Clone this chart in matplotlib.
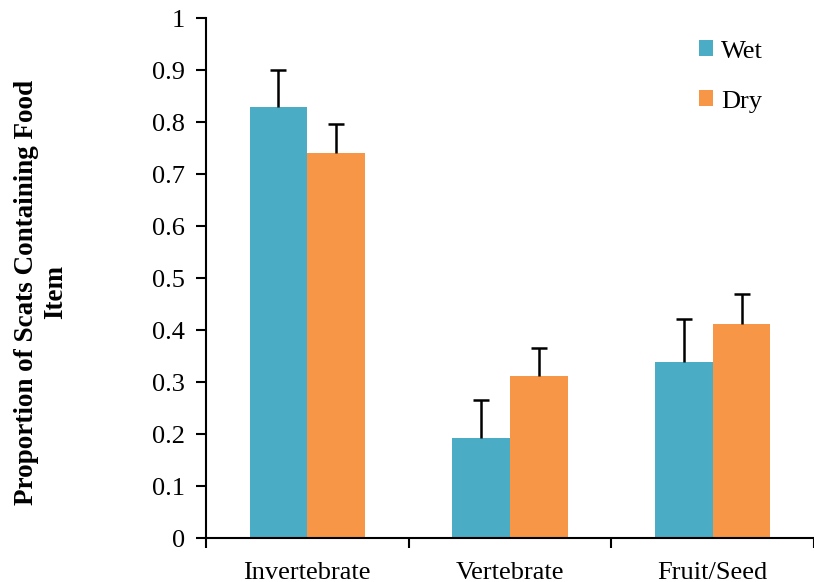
import matplotlib.pyplot as plt
import numpy as np

categories = ["Invertebrate", "Vertebrate", "Fruit/Seed"]
wet = [0.829, 0.193, 0.339]
dry = [0.741, 0.311, 0.412]
wet_err = [0.071, 0.073, 0.083]
dry_err = [0.055, 0.055, 0.058]

plt.rcParams['font.family'] = ['Liberation Serif', 'DejaVu Serif']

fig = plt.figure(figsize=(8.14, 5.82), dpi=100)
ax = fig.add_axes([0.253, 0.0756, 0.747, 0.893])

x = np.arange(len(categories))
w = 0.285
ax.bar(x - w/2, wet, w, color="#4BACC6", label="Wet")
ax.bar(x + w/2, dry, w, color="#F79646", label="Dry")

# upper-only error bars, no cap at the bar top
for xs, vals, errs in [(x - w/2, wet, wet_err), (x + w/2, dry, dry_err)]:
    eb = ax.errorbar(xs, vals, yerr=[np.zeros(3), errs], fmt="none", ecolor="black",
                     elinewidth=1.8, capsize=6, capthick=1.8, zorder=1)
    eb[1][0].set_visible(False)

ax.set_ylim(0, 1)
ax.set_xlim(-0.5, 2.466)
ax.set_yticks(np.arange(0, 1.01, 0.1))
ax.set_yticklabels(["0"] + ["%.1f" % v for v in np.arange(0.1, 0.95, 0.1)] + ["1"])
ax.set_xticks([-0.5, 0.5, 1.5, 2.5])
ax.set_xticklabels([])
ax.set_xticks(x, minor=True)
ax.set_xticklabels(categories, minor=True)
ax.tick_params(axis="x", which="minor", length=0, labelsize=19, pad=17)
ax.tick_params(axis="x", which="major", length=7, width=1.5)
ax.tick_params(axis="y", length=7, width=1.5, labelsize=19, pad=8)

for s in ["top", "right"]:
    ax.spines[s].set_visible(False)
for s in ["left", "bottom"]:
    ax.spines[s].set_linewidth(1.5)

ax.set_ylabel("Proportion of Scats Containing Food\nItem", fontsize=19.5, fontweight="bold")
ax.yaxis.set_label_coords(-0.227, 0.473)

ax.legend(loc="upper right", bbox_to_anchor=(0.955, 1.003), frameon=False, fontsize=19,
          handlelength=0.55, handleheight=0.55, labelspacing=1.05, handletextpad=0.3)

fig.savefig("out.png", dpi=100)
